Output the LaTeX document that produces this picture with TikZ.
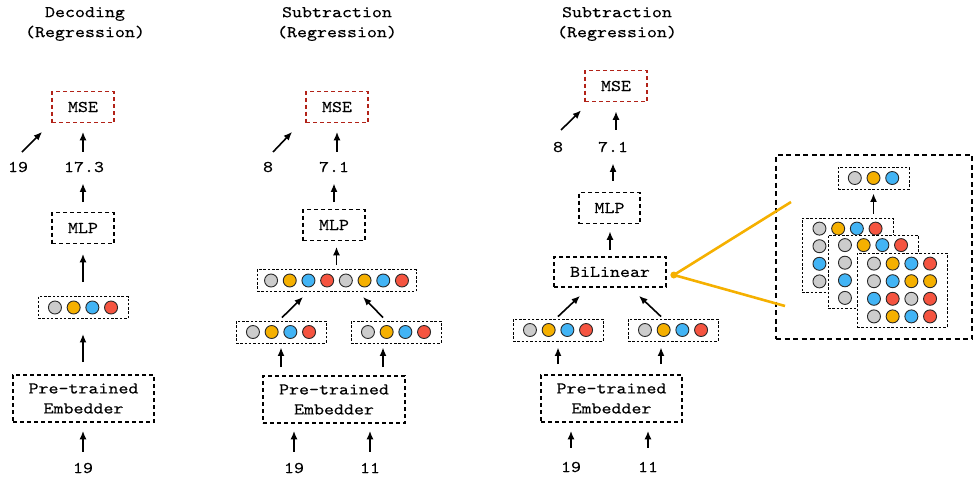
\documentclass[tikz,border=0pt]{standalone}
\usepackage{fontspec}
\newfontfamily\courfam{lmmono10-regular}[Extension=.otf,FakeStretch=1.16,FakeBold=0.25]
\usetikzlibrary{arrows.meta}
\definecolor{cg}{RGB}{204,204,204}
\definecolor{co}{RGB}{245,176,0}
\definecolor{cb}{RGB}{66,180,245}
\definecolor{cr}{RGB}{245,84,64}
\definecolor{msered}{RGB}{178,34,24}
\definecolor{lnorange}{RGB}{245,176,0}
\definecolor{dotline}{RGB}{40,40,40}
\tikzset{
 txt/.style={font=\courfam\fontsize{16.4}{20}\selectfont, inner sep=0pt},
 mainbox/.style={txt, draw=black, line width=1.7pt, dash pattern=on 4pt off 3pt, minimum width=62pt, minimum height=31pt},
 msebox/.style={mainbox, draw=msered},
 vbox/.style={draw=black, line width=0.9pt, dash pattern=on 2.5pt off 1.8pt, minimum height=22pt, fill=white, inner sep=0pt},
 dot/.style={circle, draw=dotline, line width=0.9pt, minimum size=13pt, inner sep=0pt},
 arr/.style={line width=1.6pt, -{Latex[length=8.5pt,width=7pt]}},
 num/.style={txt},
 title/.style={txt, align=center},
 insetbox/.style={draw=black, line width=1.9pt, dash pattern=on 5pt off 3.5pt, minimum width=196pt, minimum height=184pt, inner sep=0pt},
 zline/.style={draw=lnorange, line width=2.6pt},
 embbox/.style={mainbox, minimum width=141pt, minimum height=47pt, align=center},
}
\newcommand{\ColVec}[5]{%
 \node[vbox, minimum width=#4pt] (#1) at (#2,#3) {};
 \foreach \c [count=\i] in {#5} {\xdef\cvn{\i}}%
 \foreach \c [count=\i] in {#5} {\node[dot, fill=\c] at ([xshift={(\i-(\cvn+1)/2)*18.7}]#1.center) {};}%
}
\newcommand{\MatDot}[4]{%
 \node[dot, fill=#4] at ([shift={({(#3-2.5)*18.7},{(#2-2.5)*17.6})}]#1.center) {};%
}
% vertical arrow: x from #1, tail at y of #2 (moved up #4), head at y of #3 (moved down #5)
\newcommand{\VArr}[5]{%
 \path (#1 |- #2) coordinate (vaA) (#1 |- #3) coordinate (vaB);
 \draw[arr] ([yshift=#4]vaA) -- ([yshift=-#5]vaB);%
}
\begin{document}
\begin{tikzpicture}[x=1pt,y=-1pt]
\useasboundingbox (0,0) rectangle (976,479);

% ---------- column 1
\node[title] (t1) at (85,24) {Decoding\\(Regression)};
\node[msebox] (mse1) at (83,107) {MSE};
\node[num] (p1) at (18,167) {19};
\node[num] (o1) at (84,167) {17.3};
\node[mainbox] (mlp1) at (83,228) {MLP};
\ColVec{v1}{83}{307.5}{90}{cg,co,cb,cr}
\node[embbox] (e1) at (83.5,398.5) {Pre-trained\\Embedder};
\node[num] (i1) at (83,468) {19};

\draw[arr] ([shift={(4,-15)}]p1.center) -- ([shift={(-9,8.5)}]mse1.south west);
\VArr{mse1.south}{o1.north}{mse1.south}{10pt}{8.5pt}
\VArr{mlp1.north}{mlp1.north}{o1.south}{9.5pt}{11pt}
\VArr{v1.north}{v1.north}{mlp1.south}{14pt}{9.5pt}
\VArr{v1.south}{e1.north}{v1.south}{12pt}{15pt}
\VArr{i1.north}{i1.north}{e1.south}{11pt}{8pt}

% ---------- column 2
\node[title] (t2) at (337,24) {Subtraction\\(Regression)};
\node[msebox] (mse2) at (337,107) {MSE};
\node[num] (p2) at (268,167) {8};
\node[num] (o2) at (334,167) {7.1};
\node[mainbox] (mlp2) at (334,225) {MLP};
\ColVec{c2}{336.5}{280.5}{159}{cg,co,cb,cr,cg,co,cb,cr}
\ColVec{l2}{281}{332}{90}{cg,co,cb,cr}
\ColVec{r2}{396}{332}{90}{cg,co,cb,cr}
\node[embbox, minimum width=142pt] (e2) at (334,399.5) {Pre-trained\\Embedder};
\node[num] (i2a) at (294,468) {19};
\node[num] (i2b) at (370,468) {11};

\draw[arr] ([shift={(5,-15)}]p2.center) -- ([shift={(-13,8.5)}]mse2.south west);
\VArr{mse2.south}{o2.north}{mse2.south}{10pt}{8.5pt}
\VArr{o2.south}{mlp2.north}{o2.south}{6.5pt}{11pt}
\VArr{c2.north}{c2.north}{mlp2.south}{4pt}{5.5pt}
\draw[arr] ([shift={(1,-3)}]l2.north) -- ([shift={(-33.5,5)}]c2.south);
\draw[arr] ([shift={(-13,-3)}]r2.north) -- ([shift={(26.5,5)}]c2.south);
\VArr{l2.south}{e2.north}{l2.south}{8pt}{4pt}
\coordinate (r2s) at ([xshift=-13pt]r2.south);
\VArr{r2s}{e2.north}{r2s}{8pt}{4pt}
\VArr{i2a.north}{i2a.north}{e2.south}{11pt}{7pt}
\VArr{i2b.north}{i2b.north}{e2.south}{11pt}{7pt}

% ---------- column 3
\node[title] (t3) at (617,24) {Subtraction\\(Regression)};
\node[msebox] (mse3) at (616,86) {MSE};
\node[num] (p3) at (558,147) {8};
\node[num] (o3) at (613,147) {7.1};
\node[mainbox, minimum width=61pt] (mlp3) at (609.5,208) {MLP};
\node[mainbox, minimum width=112pt, minimum height=30pt] (bil) at (610,272) {BiLinear};
\ColVec{l3}{558}{330}{90}{cg,co,cb,cr}
\ColVec{r3}{673}{330}{90}{cg,co,cb,cr}
\node[embbox] (e3) at (611.5,398.5) {Pre-trained\\Embedder};
\node[num] (i3a) at (571,467) {19};
\node[num] (i3b) at (648,467) {11};

\draw[arr] ([shift={(3,-17)}]p3.center) -- ([shift={(-3,8)}]mse3.south west);
\VArr{mse3.south}{o3.north}{mse3.south}{12pt}{9pt}
\VArr{o3.south}{mlp3.north}{o3.south}{11pt}{11pt}
\VArr{bil.north}{bil.north}{mlp3.south}{6pt}{7pt}
\draw[arr] ([shift={(0,-2)}]l3.north) -- ([shift={(-30,8)}]bil.south);
\draw[arr] ([shift={(-12,-2)}]r3.north) -- ([shift={(29,8)}]bil.south);
\VArr{l3.south}{e3.north}{l3.south}{10pt}{6pt}
\coordinate (r3s) at ([xshift=-12pt]r3.south);
\VArr{r3s}{e3.north}{r3s}{10pt}{6pt}
\VArr{i3a.north}{i3a.north}{e3.south}{14pt}{8pt}
\VArr{i3b.north}{i3b.north}{e3.south}{14pt}{8pt}

% ---------- inset
\node[insetbox] (inset) at (874,247) {};
\coordinate (zu) at (791,202);
\coordinate (zl) at (785,306);
\node[circle, fill=lnorange, inner sep=0pt, minimum size=7pt] (zd) at ([shift={(7,3)}]bil.east) {};
\draw[zline] (zd.center) -- (zu);
\draw[zline] (zd.center) -- (zl);

\ColVec{ins}{873.5}{178}{71}{cg,co,cb}
\node[vbox, minimum width=91pt, minimum height=74pt] (m1) at (847.5,255) {};
\MatDot{m1}{1}{1}{cg}\MatDot{m1}{1}{2}{co}\MatDot{m1}{1}{3}{cb}\MatDot{m1}{1}{4}{cr}
\MatDot{m1}{2}{1}{cg}\MatDot{m1}{3}{1}{cb}\MatDot{m1}{4}{1}{cg}
\node[vbox, minimum width=90pt, minimum height=73pt] (m2) at (873,271.5) {};
\MatDot{m2}{1}{1}{cg}\MatDot{m2}{1}{2}{co}\MatDot{m2}{1}{3}{cb}\MatDot{m2}{1}{4}{cr}
\MatDot{m2}{2}{1}{cg}\MatDot{m2}{3}{1}{cb}\MatDot{m2}{4}{1}{cg}
\node[vbox, minimum width=90pt, minimum height=74pt] (m3) at (902,290) {};
\MatDot{m3}{1}{1}{cg}\MatDot{m3}{1}{2}{co}\MatDot{m3}{1}{3}{cb}\MatDot{m3}{1}{4}{cr}
\MatDot{m3}{2}{1}{cg}\MatDot{m3}{2}{2}{cb}\MatDot{m3}{2}{3}{co}\MatDot{m3}{2}{4}{co}
\MatDot{m3}{3}{1}{cb}\MatDot{m3}{3}{2}{cr}\MatDot{m3}{3}{3}{cg}\MatDot{m3}{3}{4}{cr}
\MatDot{m3}{4}{1}{cg}\MatDot{m3}{4}{2}{co}\MatDot{m3}{4}{3}{cb}\MatDot{m3}{4}{4}{cr}
\VArr{ins.south}{m1.north}{ins.south}{4pt}{4pt}
\end{tikzpicture}
\end{document}
